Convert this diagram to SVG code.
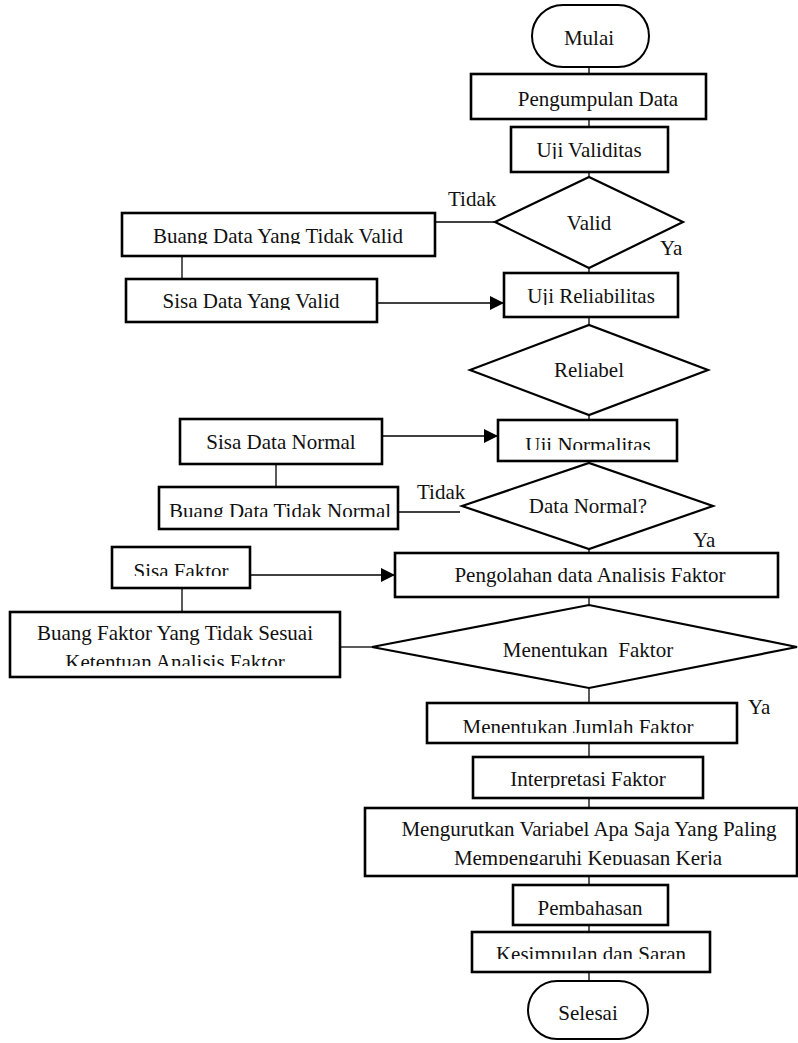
<svg xmlns="http://www.w3.org/2000/svg" width="798" height="1043" viewBox="0 0 798 1043">
<style>
  .box { fill: #fff; stroke: #000; stroke-width: 2.6; }
  .dia { fill: #fff; stroke: #000; stroke-width: 2.2; }
  .term { fill: #fff; stroke: #000; stroke-width: 2; }
  .con { fill: none; stroke: #000; stroke-width: 1.3; }
  text { font-family: "Liberation Serif", "Times New Roman", serif; font-size: 21px; fill: #111; }
  .c { text-anchor: middle; }
</style>
<defs>
  <marker id="arr" markerUnits="userSpaceOnUse" markerWidth="15" markerHeight="14" refX="14" refY="7" orient="auto">
    <path d="M0,0 L14,7 L0,14 Z" fill="#000"/>
  </marker>
  <clipPath id="cp-uv"><rect x="511" y="127" width="157" height="32"/></clipPath>
  <clipPath id="cp-bv"><rect x="122" y="213" width="313" height="31"/></clipPath>
  <clipPath id="cp-sv"><rect x="126" y="279" width="251" height="31"/></clipPath>
  <clipPath id="cp-ur"><rect x="504" y="273" width="174" height="32"/></clipPath>
  <clipPath id="cp-un"><rect x="498" y="420" width="179" height="30"/></clipPath>
  <clipPath id="cp-bn"><rect x="150" y="487" width="248" height="30"/></clipPath>
  <clipPath id="cp-sf"><rect x="112" y="547" width="138" height="29"/></clipPath>
  <clipPath id="cp-bf"><rect x="10" y="612" width="330" height="54"/></clipPath>
  <clipPath id="cp-mj"><rect x="427" y="703" width="310" height="30"/></clipPath>
  <clipPath id="cp-if"><rect x="473" y="757" width="230" height="31"/></clipPath>
  <clipPath id="cp-mv"><rect x="365" y="808" width="432" height="57"/></clipPath>
  <clipPath id="cp-ks"><rect x="472" y="932" width="238" height="27"/></clipPath>
</defs>

<g id="connectors">
  <line class="con" x1="589" y1="67" x2="589" y2="74"/>
  <line class="con" x1="589" y1="119" x2="589" y2="127"/>
  <line class="con" x1="589" y1="172" x2="589" y2="177"/>
  <line class="con" x1="589" y1="268" x2="589" y2="273"/>
  <line class="con" x1="589" y1="317" x2="589" y2="325"/>
  <line class="con" x1="589" y1="415" x2="589" y2="420"/>
  <line class="con" x1="589" y1="461" x2="589" y2="463"/>
  <line class="con" x1="589" y1="549" x2="589" y2="553"/>
  <line class="con" x1="589" y1="597" x2="589" y2="605"/>
  <line class="con" x1="589" y1="688" x2="589" y2="703"/>
  <line class="con" x1="589" y1="743" x2="589" y2="757"/>
  <line class="con" x1="589" y1="798" x2="589" y2="808"/>
  <line class="con" x1="589" y1="876" x2="589" y2="885"/>
  <line class="con" x1="589" y1="925" x2="589" y2="932"/>
  <line class="con" x1="589" y1="972" x2="589" y2="981"/>
  <line class="con" x1="495" y1="222" x2="435" y2="222"/>
  <line class="con" x1="182" y1="256" x2="182" y2="279"/>
  <line class="con" x1="377" y1="303" x2="504" y2="303" marker-end="url(#arr)"/>
  <line class="con" x1="382" y1="436" x2="498" y2="436" marker-end="url(#arr)"/>
  <line class="con" x1="276" y1="464" x2="276" y2="487"/>
  <line class="con" x1="460" y1="512" x2="398" y2="512"/>
  <line class="con" x1="250" y1="575" x2="395" y2="575" marker-end="url(#arr)"/>
  <line class="con" x1="182" y1="588" x2="182" y2="612"/>
  <line class="con" x1="372" y1="647" x2="340" y2="647"/>
</g>

<g id="mulai">
  <rect class="term" x="532" y="5" width="117" height="62" rx="31"/>
  <text class="c" x="589" y="45">Mulai</text>
</g>
<g id="pengumpulan">
  <rect class="box" x="471" y="74" width="235" height="45"/>
  <text class="c" x="598" y="106">Pengumpulan Data</text>
</g>
<g id="uji-validitas">
  <rect class="box" x="511" y="127" width="157" height="45"/>
  <text class="c" x="589" y="157" clip-path="url(#cp-uv)">Uji Validitas</text>
</g>
<g id="valid">
  <polygon class="dia" points="495,222 589,177 683,222 589,268"/>
  <text class="c" x="589" y="230">Valid</text>
</g>
<g id="buang-valid">
  <rect class="box" x="122" y="213" width="313" height="43"/>
  <text class="c" x="278" y="243" clip-path="url(#cp-bv)">Buang Data Yang Tidak Valid</text>
</g>
<g id="sisa-valid">
  <rect class="box" x="126" y="279" width="251" height="43"/>
  <text class="c" x="251" y="308" clip-path="url(#cp-sv)">Sisa Data Yang Valid</text>
</g>
<g id="uji-reliabilitas">
  <rect class="box" x="504" y="273" width="174" height="44"/>
  <text class="c" x="591" y="303" clip-path="url(#cp-ur)">Uji Reliabilitas</text>
</g>
<g id="reliabel">
  <polygon class="dia" points="470,370 589,325 708,370 589,415"/>
  <text class="c" x="589" y="377">Reliabel</text>
</g>
<g id="sisa-normal">
  <rect class="box" x="180" y="419" width="202" height="45"/>
  <text class="c" x="281" y="449">Sisa Data Normal</text>
</g>
<g id="uji-normalitas">
  <rect class="box" x="498" y="420" width="179" height="41"/>
  <text class="c" x="588" y="452" clip-path="url(#cp-un)">Uji Normalitas</text>
</g>
<g id="buang-normal">
  <rect class="box" x="159" y="487" width="239" height="42"/>
  <text class="c" x="280" y="518" clip-path="url(#cp-bn)">Buang Data Tidak Normal</text>
</g>
<g id="data-normal">
  <polygon class="dia" points="462,506 589,463 713,506 589,549"/>
  <text class="c" x="588" y="513">Data Normal?</text>
</g>
<g id="sisa-faktor">
  <rect class="box" x="112" y="547" width="138" height="41"/>
  <text class="c" x="181" y="578" clip-path="url(#cp-sf)">Sisa Faktor</text>
</g>
<g id="pengolahan">
  <rect class="box" x="395" y="553" width="383" height="44"/>
  <text class="c" x="590" y="582">Pengolahan data Analisis Faktor</text>
</g>
<g id="buang-faktor">
  <rect class="box" x="10" y="612" width="330" height="65"/>
  <text class="c" x="175" y="640" clip-path="url(#cp-bf)">Buang Faktor Yang Tidak Sesuai</text>
  <text class="c" x="175" y="669" clip-path="url(#cp-bf)">Ketentuan Analisis Faktor</text>
</g>
<g id="menentukan-faktor">
  <polygon class="dia" points="372,647 589,605 797,647 589,688"/>
  <text class="c" x="588" y="657" xml:space="preserve">Menentukan  Faktor</text>
</g>
<g id="jumlah-faktor">
  <rect class="box" x="427" y="703" width="310" height="40"/>
  <text class="c" x="578" y="734" clip-path="url(#cp-mj)">Menentukan Jumlah Faktor</text>
</g>
<g id="interpretasi">
  <rect class="box" x="473" y="757" width="230" height="41"/>
  <text class="c" x="588" y="786" clip-path="url(#cp-if)">Interpretasi Faktor</text>
</g>
<g id="mengurutkan">
  <rect class="box" x="365" y="808" width="432" height="68"/>
  <text class="c" x="589" y="836" clip-path="url(#cp-mv)">Mengurutkan Variabel Apa Saja Yang Paling</text>
  <text class="c" x="588" y="865" clip-path="url(#cp-mv)">Mempengaruhi Kepuasan Kerja</text>
</g>
<g id="pembahasan">
  <rect class="box" x="513" y="885" width="155" height="40"/>
  <text class="c" x="590" y="915">Pembahasan</text>
</g>
<g id="kesimpulan">
  <rect class="box" x="472" y="932" width="238" height="40"/>
  <text class="c" x="591" y="961" clip-path="url(#cp-ks)">Kesimpulan dan Saran</text>
</g>
<g id="selesai">
  <rect class="term" x="528" y="981" width="120" height="58" rx="29"/>
  <text class="c" x="588" y="1020">Selesai</text>
</g>

<g id="labels">
  <text x="448" y="206">Tidak</text>
  <text x="660" y="255">Ya</text>
  <text x="417" y="499">Tidak</text>
  <text x="693" y="547">Ya</text>
  <text x="748" y="714">Ya</text>
</g>
</svg>
